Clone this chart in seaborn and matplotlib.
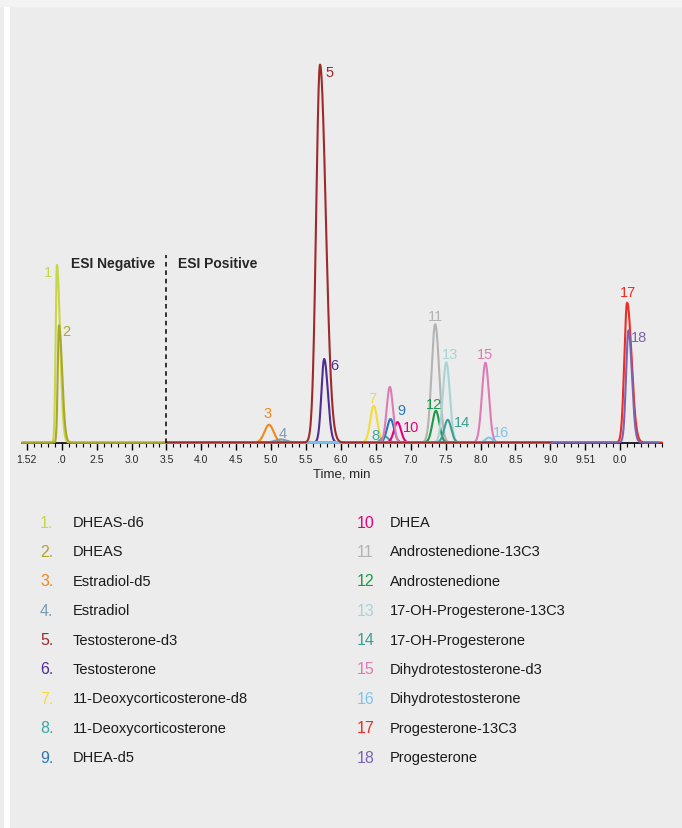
import numpy as np
import pandas as pd
import seaborn as sns
import matplotlib
matplotlib.use("Agg")
import matplotlib.pyplot as plt
from matplotlib import font_manager
from matplotlib.ticker import FixedLocator, MultipleLocator

# ---------------- DATA ----------------
compounds = ["DHEAS-d6", "DHEAS", "Estradiol-d5", "Estradiol", "Testosterone-d3",
             "Testosterone", "11-Deoxycorticosterone-d8", "11-Deoxycorticosterone",
             "DHEA-d5", "DHEA", "Androstenedione-13C3", "Androstenedione",
             "17-OH-Progesterone-13C3", "17-OH-Progesterone", "Dihydrotestosterone-d3",
             "Dihydrotestosterone", "Progesterone-13C3", "Progesterone"]
peak_ids = [str(i) for i in range(1, 19)]

# apex retention time (min), relative height, peak width (sigma, min), right-side tailing
rt = [1.93, 1.96, 4.97, 5.14, 5.70, 5.76, 6.47, 6.63, 6.71, 6.81, 7.35, 7.36,
      7.51, 7.53, 8.07, 8.12, 10.10, 10.12]
height = [47.0, 31.0, 4.7, 0.8, 100.0, 22.1, 9.7, 1.6, 6.2, 5.4, 31.3, 8.4,
          21.2, 6.0, 21.1, 1.3, 37.0, 29.7]
sigma = [0.018, 0.018, 0.065, 0.08, 0.055, 0.04, 0.05, 0.05, 0.05, 0.05, 0.052, 0.05,
         0.05, 0.05, 0.05, 0.05, 0.04, 0.035]
tail = [2.5, 2.5, 1.0, 1.0, 1.5, 1.3, 1.0, 1.0, 1.0, 1.0, 1.1, 1.0,
        1.0, 1.0, 1.0, 1.0, 1.6, 1.4]
# second (unlabelled) pink peak in the Dihydrotestosterone-d3 trace
extra_peak = {"15": (6.70, 14.7, 0.045)}

# acquisition window of each trace (min)
trace_start = [1.43, 1.43] + [3.5] * 14 + [9.02, 9.02]
trace_end = [3.5, 3.5] + [9.02] * 14 + [10.6, 10.55]

colors = ["#c8d64b", "#a9a72c", "#f0881a", "#7a9cb0", "#9e2a2b", "#4f2d91",
          "#f3dc3a", "#3aa8a4", "#2c76b6", "#e5007d", "#b3b3b3", "#1c9a48",
          "#a9d4d4", "#3b9f96", "#de7bb5", "#7fc6ea", "#ee2b24", "#7d63ad"]

tick_pos = np.arange(1.5, 10.01, 0.5)
tick_labels = ["1.52", ".0", "2.5", "3.0", "3.5", "4.0", "4.5", "5.0", "5.5", "6.0",
               "6.5", "7.0", "7.5", "8.0", "8.5", "9.0", "9.51", "0.0"]

# peak number label positions (time, intensity)
label_t = [1.80, 2.07, 4.955, 5.17, 5.83, 5.90, 6.45, 6.49, 6.86, 7.00, 7.35, 7.33,
           7.56, 7.73, 8.07, 8.30, 10.12, 10.27]
label_y = [45.2, 29.4, 7.7, 2.6, 98.1, 20.4, 11.9, 2.1, 8.5, 4.0, 33.6, 10.3,
           23.3, 5.3, 23.5, 2.9, 39.7, 28.0]

divider_t = 3.5

# ---------------- FONT ----------------
def pick_font(cands):
    for c in cands:
        try:
            font_manager.findfont(c, fallback_to_default=False)
            return c
        except Exception:
            pass
    return "DejaVu Sans"

sns.set_style("white")
FONT = pick_font(["Liberation Sans Narrow", "DejaVu Sans Condensed", "Liberation Sans"])
plt.rcParams["font.family"] = [FONT, "DejaVu Sans"]

# ---------------- BUILD TRACES ----------------
rows = []
for i, pid in enumerate(peak_ids):
    t = np.arange(trace_start[i], trace_end[i], 0.002)
    d = t - rt[i]
    s = np.where(d > 0, sigma[i] * tail[i], sigma[i])
    y = height[i] * np.exp(-0.5 * (d / s) ** 2)
    if pid in extra_peak:
        r2, h2, s2 = extra_peak[pid]
        y = y + h2 * np.exp(-0.5 * ((t - r2) / s2) ** 2)
    rows.append(pd.DataFrame({"time": t, "intensity": y, "peak": pid}))
df = pd.concat(rows, ignore_index=True)

# drawing order: Testosterone-d3 on top of the middle baseline
draw_order = ["1", "2", "3", "4", "6", "7", "8", "9", "10", "11", "12", "13", "14",
              "15", "16", "5", "17", "18"]
palette = dict(zip(peak_ids, colors))

# ---------------- PLOT ----------------
BG = "#ececec"
fig = plt.figure(figsize=(6.82, 8.29), dpi=100, facecolor=BG)
fig.patches.append(plt.Rectangle((4 / 682, 0), 6 / 682, 1, transform=fig.transFigure,
                                 facecolor="white", edgecolor="none", zorder=-1))
fig.patches.append(plt.Rectangle((0, 1 - 8 / 829), 1, 8 / 829, transform=fig.transFigure,
                                 facecolor="#f3f3f3", edgecolor="none", zorder=-1))

ax = fig.add_axes([22 / 682, (829 - 443.5) / 829, 640 / 682, 413 / 829])
ax.set_facecolor(BG)
sns.lineplot(data=df, x="time", y="intensity", hue="peak", hue_order=draw_order,
             palette=palette, legend=False, ax=ax, linewidth=1.5, sort=False,
             estimator=None)
for ln in ax.lines:
    ln.set_clip_on(False)
    ln.set_zorder(3)

ax.set_xlim(1.43, 10.6)
ax.set_ylim(0, 109.3)
for sp in ["left", "top", "right"]:
    ax.spines[sp].set_visible(False)
ax.spines["bottom"].set_linewidth(1.2)
ax.spines["bottom"].set_color("black")
ax.spines["bottom"].set_zorder(2)
ax.set_yticks([])
ax.xaxis.set_major_locator(FixedLocator(tick_pos))
ax.set_xticklabels(tick_labels, fontsize=7.5)
ax.xaxis.set_minor_locator(MultipleLocator(0.1))
ax.tick_params(axis="x", which="both", bottom=True, color="black")
ax.tick_params(axis="x", which="major", direction="out", length=5, width=1, pad=3)
ax.tick_params(axis="x", which="minor", direction="out", length=3, width=0.8)
ax.set_xlabel("Time, min", fontsize=9.5, labelpad=3)
ax.set_ylabel("")

# ESI divider
ax.axvline(divider_t, ymin=0, ymax=0.455, color="black", linestyle=(0, (3, 2.5)),
           linewidth=1.1, zorder=4)
ax.text(divider_t - 0.17, 47.5, "ESI Negative", ha="right", va="center",
        fontsize=10, fontweight="bold")
ax.text(divider_t + 0.16, 47.5, "ESI Positive", ha="left", va="center",
        fontsize=10, fontweight="bold")

# peak numbers
for i, pid in enumerate(peak_ids):
    ax.text(label_t[i], label_y[i], pid, color=colors[i], ha="center", va="center",
            fontsize=10.5, zorder=5)

# ---------------- LEGEND (two columns) ----------------
row_y = [523 + 29.4 * k for k in range(9)]
for i, name in enumerate(compounds):
    col = i // 9
    k = i % 9
    y = 1 - row_y[k] / 829
    num = f"{i + 1}." if i < 9 else f"{i + 1}"
    xn = (40 if col == 0 else 357) / 682
    xt = (73 if col == 0 else 390) / 682
    fig.text(xn, y, num, color=colors[i], fontsize=11.5, ha="left", va="center")
    fig.text(xt, y, name, color="#1a1a1a", fontsize=10.5, ha="left", va="center")

fig.savefig("out.png", dpi=100, facecolor=BG)
